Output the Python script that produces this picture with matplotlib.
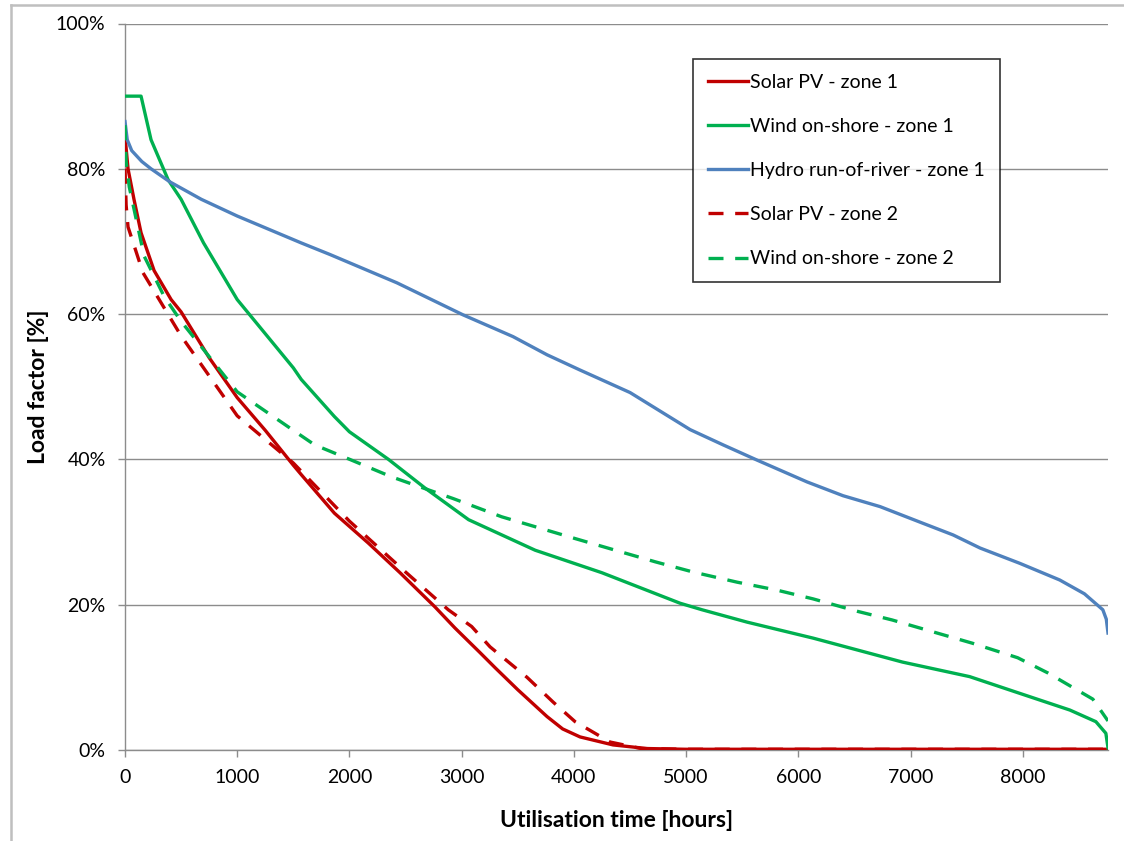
import matplotlib
matplotlib.use("Agg")
import matplotlib.pyplot as plt
from matplotlib.lines import Line2D
from matplotlib.ticker import FuncFormatter, MultipleLocator

plt.rcParams['font.family'] = ['Lato', 'DejaVu Sans']

# ---- data (hours, load factor %) ----
solar1_h = [0, 27, 80, 143, 259, 411, 500, 750, 1000, 1250, 1500, 1571, 1866, 2167, 2451, 2762, 2940, 3164, 3300, 3500, 3761, 3900, 4055, 4349, 4652, 5000, 6000, 7000, 8000, 8760]
solar1_v = [84.5, 80, 75.8, 71.2, 66, 62, 60.3, 54, 48.5, 44, 39.2, 37.9, 32.6, 28.5, 24.4, 19.7, 16.8, 13.4, 11.3, 8.3, 4.6, 2.9, 1.8, 0.7, 0.2, 0.1, 0.1, 0.1, 0.1, 0.1]

wind1_h = [0, 143, 232, 384, 500, 700, 1000, 1500, 1571, 1866, 2000, 2348, 2670, 3062, 3655, 4250, 4947, 5143, 5544, 6132, 6929, 7527, 7973, 8420, 8652, 8741, 8760]
wind1_v = [90, 90, 84, 78.5, 75.8, 69.8, 62, 52.6, 51, 45.9, 43.8, 40, 36.1, 31.7, 27.5, 24.4, 20.2, 19.3, 17.6, 15.4, 12.1, 10.1, 7.8, 5.5, 3.9, 2.3, 0.3]

hydro1_h = [0, 20, 60, 150, 232, 400, 680, 1000, 1570, 1827, 2424, 3012, 3458, 3761, 4055, 4501, 5036, 5330, 5633, 6078, 6399, 6729, 7112, 7380, 7620, 7973, 8330, 8550, 8714, 8745, 8760]
hydro1_v = [86.5, 84, 82.5, 81, 80, 78.2, 75.8, 73.5, 69.8, 68.2, 64.3, 59.9, 56.9, 54.4, 52.3, 49.2, 44.1, 42, 39.9, 36.9, 35, 33.5, 31.2, 29.6, 27.8, 25.7, 23.4, 21.5, 19.3, 18, 16.1]

solar2_h = [0, 10, 27, 160, 500, 1000, 1500, 2000, 2500, 2881, 3089, 3253, 3583, 3815, 4011, 4322, 4600, 5000, 6000, 7000, 8000, 8760]
solar2_v = [80, 75, 72, 65.7, 57, 46, 39.5, 31.5, 24.5, 19.3, 17, 14.2, 10, 6.6, 3.9, 1.1, 0.2, 0.1, 0.1, 0.1, 0.1, 0.1]

wind2_h = [0, 10, 38, 170, 350, 500, 1000, 1500, 1690, 2003, 2375, 2926, 3357, 4012, 4726, 5062, 5455, 5811, 6132, 6524, 6836, 7237, 7551, 7955, 8225, 8625, 8760]
wind2_v = [86, 81, 77.5, 68, 62.4, 59, 49.3, 44, 42, 40, 37.6, 34.6, 32.1, 29.1, 25.9, 24.5, 23.1, 22, 20.8, 19.1, 17.9, 16.1, 14.7, 12.7, 10.6, 7, 4]

labels = ["Solar PV - zone 1", "Wind on-shore - zone 1", "Hydro run-of-river - zone 1",
          "Solar PV - zone 2", "Wind on-shore - zone 2"]

RED = '#C00000'
GREEN = '#00B050'
BLUE = '#4F81BD'
GRID = '#8c8c8c'

fig = plt.figure(figsize=(11.24, 8.41), dpi=100)
ax = fig.add_axes([125/1124, (841-750)/841, 983/1124, 726.5/841])

lw = 2.4
dash = (4.5, 3.5)
ax.plot(solar1_h, solar1_v, color=RED, lw=lw, label=labels[0], zorder=3)
ax.plot(wind1_h, wind1_v, color=GREEN, lw=lw, label=labels[1], zorder=3)
ax.plot(hydro1_h, hydro1_v, color=BLUE, lw=lw, label=labels[2], zorder=3)
ax.plot(solar2_h, solar2_v, color=RED, lw=lw, ls=(0, dash), label=labels[3], zorder=3)
ax.plot(wind2_h, wind2_v, color=GREEN, lw=lw, ls=(0, dash), label=labels[4], zorder=3)

ax.set_xlim(0, 8760)
ax.set_ylim(0, 100)
ax.xaxis.set_major_locator(MultipleLocator(1000))
ax.yaxis.set_major_locator(MultipleLocator(20))
ax.yaxis.set_major_formatter(FuncFormatter(lambda v, p: f"{int(round(v))}%"))

ax.grid(axis='y', color=GRID, lw=1.0, zorder=1)
for s in ['top', 'right']:
    ax.spines[s].set_visible(False)
for s in ['left', 'bottom']:
    ax.spines[s].set_color(GRID)
    ax.spines[s].set_linewidth(1.0)
ax.tick_params(axis='both', which='major', direction='out', length=5, width=1.0,
               color=GRID, labelsize=14, labelcolor='black')
ax.tick_params(axis='y', pad=9)
ax.tick_params(axis='x', pad=9)

ax.set_xlabel("Utilisation time [hours]", fontsize=16.5, fontweight='bold', labelpad=17)
ax.set_ylabel("Load factor [%]", fontsize=16.5, fontweight='bold', labelpad=5)

leg = ax.legend(loc='upper left', bbox_to_anchor=((693-125)/983, (750-59)/726.5),
                fontsize=14, frameon=True, fancybox=False, edgecolor='black',
                handlelength=2.1, handletextpad=0.1, labelspacing=1.4,
                borderpad=0.75, borderaxespad=0)
leg.get_frame().set_linewidth(1.2)
leg.set_zorder(5)

# outer chart-area border
fig.add_artist(Line2D([11/1124, 1.0], [1-5/841, 1-5/841], color='#bfbfbf', lw=1.8))
fig.add_artist(Line2D([11/1124, 11/1124], [0, 1-5/841], color='#bfbfbf', lw=1.8))

fig.savefig('out.png', dpi=100)
